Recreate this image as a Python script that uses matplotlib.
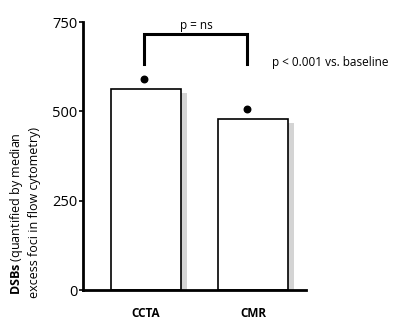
import matplotlib
matplotlib.use("Agg")
import matplotlib.pyplot as plt

plt.rcParams["font.family"] = ["Open Sans", "DejaVu Sans"]
plt.rcParams["mathtext.fontset"] = "custom"
plt.rcParams["mathtext.rm"] = "Open Sans"
plt.rcParams["mathtext.bf"] = "Open Sans:bold"

categories = ["CCTA", "CMR"]
dsb_values = [562, 478]
dot_values = [590, 506]
yticks = [0, 250, 500, 750]
bracket_top = 718
bracket_bottom = 634

fig = plt.figure(figsize=(4.0, 3.32), dpi=100)
ax = fig.add_axes([0.2075, 0.1265, 0.5575, 0.807])

x = [0, 1]
width = 0.654
# grey drop shadow behind each bar
shadow_dx = 0.056
shadow_dy = 11
ax.bar([xi + shadow_dx for xi in x], [v - shadow_dy for v in dsb_values],
       width=width, color="#d4d4d4", edgecolor="none", zorder=1)
ax.bar(x, dsb_values, width=width, color="white", edgecolor="black",
       linewidth=1.2, zorder=2)

# significance dots vs baseline
dot_x = [-0.015, 0.94]
ax.scatter(dot_x, dot_values, s=22, color="black", zorder=3)

# bracket between groups
ax.plot([dot_x[0], dot_x[0], dot_x[1], dot_x[1]],
        [bracket_bottom, bracket_top, bracket_top, bracket_bottom],
        color="black", linewidth=2.2, solid_joinstyle="miter", clip_on=False)
ax.text(0.47, 740, "p = ns", ha="center", va="center", fontsize=8.5,
        clip_on=False)
ax.text(1.18, 638, "p < 0.001 vs. baseline", ha="left", va="center",
        fontsize=8.5, clip_on=False)

ax.set_xlim(-0.589, 1.495)
ax.set_ylim(0, 750)
ax.set_yticks(yticks)
ax.set_yticklabels([str(t) for t in yticks], fontsize=10.5)
ax.set_xticks(x)
ax.set_xticklabels(categories, fontsize=8.5, fontweight="bold")
ax.tick_params(axis="x", length=0, pad=12)
ax.tick_params(axis="y", length=3, width=1.2, pad=1)

for side in ["top", "right"]:
    ax.spines[side].set_visible(False)
for side in ["left", "bottom"]:
    ax.spines[side].set_linewidth(2.0)

fig.text(0.0425, 0.357, r"$\bf{DSBs}$ (quantified by median", rotation=90,
         ha="center", va="center", fontsize=9)
fig.text(0.087, 0.36, "excess foci in flow cytometry)", rotation=90,
         ha="center", va="center", fontsize=9)

fig.savefig("out.png", dpi=100)
